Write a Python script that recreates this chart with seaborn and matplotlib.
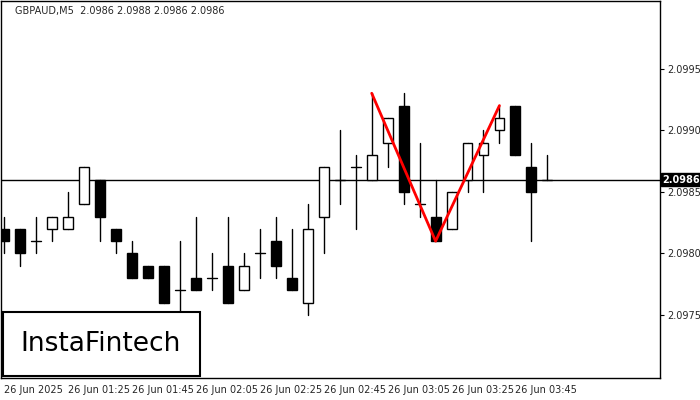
import matplotlib
matplotlib.use("Agg")
import matplotlib.pyplot as plt
import seaborn as sns
import pandas as pd
from matplotlib.patches import Rectangle

opens  = [2.0982,2.0982,2.0981,2.0982,2.0982,2.0984,2.0986,2.0982,2.0980,2.0979,2.0979,2.0977,2.0978,2.0978,2.0979,2.0977,2.0980,2.0981,2.0978,2.0976,2.0983,2.0986,2.0987,2.0986,2.0989,2.0992,2.0984,2.0983,2.0982,2.0986,2.0988,2.0990,2.0992,2.0987,2.0986]
closes = [2.0981,2.0980,2.0981,2.0983,2.0983,2.0987,2.0983,2.0981,2.0978,2.0978,2.0976,2.0977,2.0977,2.0978,2.0976,2.0979,2.0980,2.0979,2.0977,2.0982,2.0987,2.0986,2.0987,2.0988,2.0991,2.0985,2.0984,2.0981,2.0985,2.0989,2.0989,2.0991,2.0988,2.0985,2.0986]
highs  = [2.0983,2.0982,2.0983,2.0983,2.0985,2.0987,2.0986,2.0982,2.0981,2.0979,2.0979,2.0981,2.0983,2.0980,2.0983,2.0980,2.0982,2.0983,2.0982,2.0984,2.0987,2.0990,2.0988,2.0993,2.0991,2.0993,2.0989,2.0986,2.0985,2.0989,2.0990,2.0992,2.0992,2.0989,2.0988]
lows   = [2.0980,2.0979,2.0980,2.0981,2.0982,2.0984,2.0981,2.0980,2.0978,2.0978,2.0976,2.0975,2.0977,2.0977,2.0976,2.0977,2.0978,2.0978,2.0977,2.0975,2.0980,2.0984,2.0982,2.0986,2.0987,2.0984,2.0983,2.0981,2.0982,2.0985,2.0985,2.0989,2.0988,2.0981,2.0986]
tick_labels = ["26 Jun 2025","26 Jun 01:25","26 Jun 01:45","26 Jun 02:05","26 Jun 02:25","26 Jun 02:45","26 Jun 03:05","26 Jun 03:25","26 Jun 03:45"]
price_ticks = [2.0975,2.0980,2.0985,2.0990,2.0995]
pattern_idx = [23,27,31]
pattern_px = [2.0993,2.0981,2.0992]
current = 2.0986

sns.set_style("white")
fig = plt.figure(figsize=(7,4), dpi=100)
ax = fig.add_axes([0.002, 0.055, 0.941, 0.943])
ax.set_xlim(-0.19, 41.06)
ax.set_ylim(2.09699, 2.10005)

w = 0.62
for i,(o,c,h,l) in enumerate(zip(opens,closes,highs,lows)):
    ax.plot([i,i],[l,h],color="black",lw=1,zorder=2)
    if o == c:
        ax.plot([i-w/2,i+w/2],[o,o],color="black",lw=1,zorder=3)
    else:
        fc = "white" if c > o else "black"
        ax.add_patch(Rectangle((i-w/2,min(o,c)),w,abs(c-o),facecolor=fc,edgecolor="black",lw=1,zorder=3))

ax.axhline(current,color="black",lw=1,zorder=1)
df = pd.DataFrame({"x":pattern_idx,"y":pattern_px})
sns.lineplot(data=df,x="x",y="y",ax=ax,color="#ff0000",lw=2,zorder=5,sort=False)

ax.yaxis.tick_right()
ax.set_yticks(price_ticks)
ax.set_yticklabels([f"{p:.4f}" for p in price_ticks],fontsize=7)
ax.set_xticks([4*k for k in range(len(tick_labels))])
ax.set_xticklabels(tick_labels,fontsize=7,ha="left")
ax.tick_params(axis="both",length=3,direction="out",color="black",pad=2)
ax.set_xlabel(""); ax.set_ylabel("")
for s in ax.spines.values():
    s.set_color("black"); s.set_linewidth(1)

ax.text(1.004, (current-2.09699)/(2.10005-2.09699), f"{current:.4f}", transform=ax.transAxes,
        fontsize=7, color="white", fontweight="bold", va="center", ha="left",
        bbox=dict(boxstyle="square,pad=0.15",fc="black",ec="black"))
ax.text(0.02,0.985,"GBPAUD,M5  2.0986 2.0988 2.0986 2.0986",transform=ax.transAxes,fontsize=7,va="top",ha="left")

fig.patches.append(Rectangle((3/700,24/400),197/700,64/400,transform=fig.transFigure,facecolor="white",edgecolor="black",lw=1.5,zorder=10))
fig.text(101/700,56/400,"InstaFintech",fontsize=19,ha="center",va="center",color="black",zorder=11,family="DejaVu Sans")
fig.savefig("out.png",dpi=100)
